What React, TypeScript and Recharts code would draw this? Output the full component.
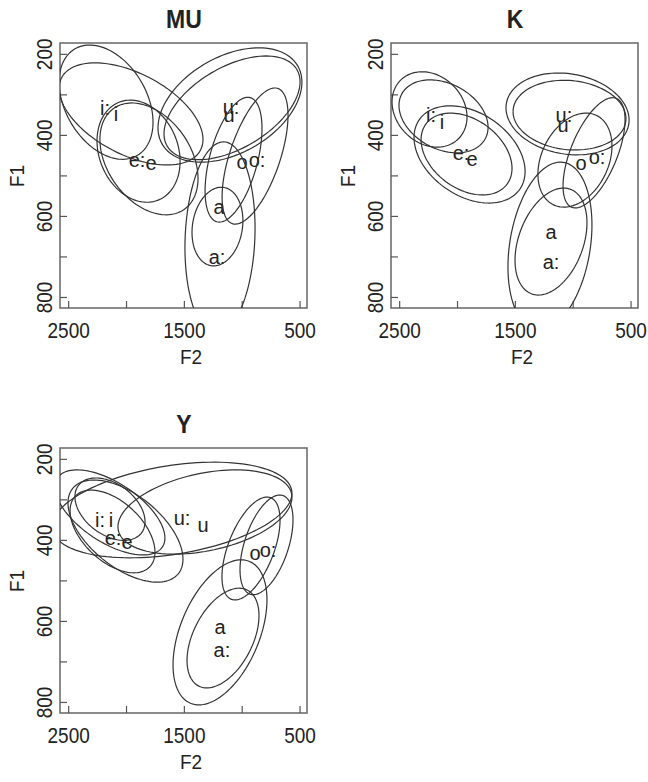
import React from 'react';
import { ScatterChart, Scatter, XAxis, YAxis, ReferenceArea } from 'recharts';

const vowels = ['i:', 'i', 'e:', 'e', 'u:', 'u', 'o', 'o:', 'a', 'a:'];

// ellipse per vowel: [centre F2, centre F1, half-width F2, half-height F1, tilt]
const muEllipses = [
  [1961, 347, 622, 126, -0.5],
  [2177, 318, 406, 141, -0.35],
  [1896, 439, 359, 126, -0.2],
  [1806, 458, 424, 138, -0.35],
  [1106, 325, 622, 141, 0.4],
  [1088, 332, 588, 128, 0.5],
  [1075, 460, 246, 154, 0.5],
  [889, 451, 285, 168, 0.6],
  [1214, 625, 220, 97, 0.15],
  [1192, 653, 303, 237, 0.1],
];
const muLabels = [
  [2186, 332], [2091, 347], [1909, 461], [1788, 468], [1097, 330],
  [1114, 350], [1002, 466], [872, 461], [1201, 577], [1218, 700],
];

const kEllipses = [
  [2242, 336, 324, 93, -0.2],
  [2121, 353, 385, 90, -0.3],
  [1896, 447, 480, 120, -0.35],
  [1922, 446, 393, 101, -0.35],
  [1049, 347, 532, 101, -0.15],
  [1032, 350, 488, 86, -0.1],
  [985, 461, 320, 116, 0.3],
  [820, 443, 268, 136, 0.6],
  [1192, 662, 311, 132, 0.35],
  [1201, 673, 363, 207, 0.25],
];
const kLabels = [
  [2229, 350], [2134, 367], [1970, 443], [1875, 458], [1080, 350],
  [1088, 374], [933, 468], [794, 453], [1192, 638], [1192, 712],
];

const yEllipses = [
  [2143, 331, 475, 105, -0.6],
  [2143, 323, 303, 77, -0.4],
  [2121, 378, 367, 102, -0.5],
  [2009, 377, 497, 126, -0.55],
  [1607, 325, 1037, 118, 0.35],
  [1322, 330, 752, 104, 0.35],
  [924, 420, 251, 127, 0.55],
  [790, 411, 229, 123, 0.5],
  [1166, 641, 311, 123, 0.45],
  [1192, 627, 406, 179, 0.45],
];
const yLabels = [
  [2229, 350], [2134, 350], [2117, 394], [1996, 404], [1520, 345],
  [1339, 362], [889, 431], [777, 424], [1192, 614], [1175, 671],
];

const f2Domain = [440, 2575];
const f1Domain = [172, 826];
const f2Ticks = [2500, 2000, 1500, 1000, 500];
const f2Labelled = [2500, 1500, 500];
const f1Ticks = [200, 300, 400, 500, 600, 700, 800];
const f1Labelled = [200, 400, 600, 800];

const BOX_W = 247;
const BOX_H = 265;
const PAD_L = 60;
const PAD_T = 43;
const CHART_W = 317;
const CHART_H = 383;
const INK = '#333';
const FONT = '"Liberation Sans", Arial, sans-serif';

function outline(e: number[]) {
  const [cx, cy, w, h, r] = e;
  const s = Math.sqrt(1 - r * r);
  const pts = [];
  for (let k = 0; k <= 120; k++) {
    const t = (k / 120) * 2 * Math.PI;
    pts.push({ x: cx + w * Math.cos(t), y: cy + h * (r * Math.cos(t) + s * Math.sin(t)) });
  }
  return pts;
}

const plotBottom = PAD_T + BOX_H;

function F2Tick(p: any) {
  const x = p.x;
  return (
    <g>
      <line x1={x} y1={plotBottom} x2={x} y2={plotBottom - 7} stroke="#555" strokeWidth={1.2} />
      {f2Labelled.includes(p.payload.value) && (
        <text transform={`translate(${x}, ${plotBottom + 23}) scale(1, 1.12)`} textAnchor="middle"
          dominantBaseline="central" fontSize={19} fill="#222" fontFamily={FONT}>
          {p.payload.value}
        </text>
      )}
    </g>
  );
}

function F1Tick(p: any) {
  const y = p.y;
  return (
    <g>
      <line x1={PAD_L} y1={y} x2={PAD_L + 7} y2={y} stroke="#555" strokeWidth={1.2} />
      {f1Labelled.includes(p.payload.value) && (
        <text transform={`translate(45, ${y}) rotate(-90) scale(1, 1.12)`} textAnchor="middle"
          dominantBaseline="central" fontSize={19} fill="#222" fontFamily={FONT}>
          {p.payload.value}
        </text>
      )}
    </g>
  );
}

function VowelText(p: any) {
  return (
    <text x={p.cx} y={p.cy} textAnchor="middle" dominantBaseline="central"
      fontSize={20} fill="#222" fontFamily={FONT}>
      {p.payload.v}
    </text>
  );
}

interface PanelProps {
  title: string;
  left: number;
  top: number;
  ellipses: number[][];
  labels: number[][];
}

function Panel({ title, left, top, ellipses, labels }: PanelProps) {
  const labelData = labels.map(([x, y], i) => ({ x, y, v: vowels[i] }));
  const text: React.CSSProperties = { position: 'absolute', transform: 'translate(-50%, -50%) scale(1, 1.1)', whiteSpace: 'nowrap', color: '#222', fontSize: 19, lineHeight: 1 };
  return (
    <div style={{ position: 'absolute', left: left - PAD_L, top: top - PAD_T, width: CHART_W, height: CHART_H }}>
      {/* frame, ticks and vowel labels */}
      <div style={{ position: 'absolute', left: 0, top: 0 }}>
        <ScatterChart width={CHART_W} height={CHART_H} margin={{ top: PAD_T, right: CHART_W - PAD_L - BOX_W, bottom: 0, left: 0 }}>
          <XAxis type="number" dataKey="x" domain={f2Domain} reversed allowDataOverflow ticks={f2Ticks}
            interval={0} height={CHART_H - PAD_T - BOX_H} axisLine={false} tickLine={false} tick={F2Tick} />
          <YAxis type="number" dataKey="y" domain={f1Domain} reversed allowDataOverflow ticks={f1Ticks}
            interval={0} width={PAD_L} axisLine={false} tickLine={false} tick={F1Tick} />
          <ReferenceArea x1={f2Domain[0]} x2={f2Domain[1]} y1={f1Domain[0]} y2={f1Domain[1]}
            fill="none" fillOpacity={0} stroke="#666" strokeWidth={1.5} />
          <Scatter data={labelData} shape={VowelText} isAnimationActive={false} />
        </ScatterChart>
      </div>
      {/* ellipses, clipped to the plot box */}
      <div style={{ position: 'absolute', left: PAD_L, top: PAD_T, width: BOX_W, height: BOX_H, overflow: 'hidden' }}>
        <ScatterChart width={BOX_W} height={BOX_H} margin={{ top: 0, right: 0, bottom: 0, left: 0 }}>
          <XAxis type="number" dataKey="x" domain={f2Domain} reversed allowDataOverflow hide />
          <YAxis type="number" dataKey="y" domain={f1Domain} reversed allowDataOverflow hide />
          {ellipses.map((e, i) => (
            <Scatter key={i} data={outline(e)} line={{ stroke: INK, strokeWidth: 1.2 }} lineType="joint"
              shape={() => <g />} isAnimationActive={false} />
          ))}
        </ScatterChart>
      </div>
      <div style={{ ...text, left: PAD_L + 124, top: PAD_T - 23, fontWeight: 'bold', fontSize: 23 }}>{title}</div>
      <div style={{ ...text, left: PAD_L + 131, top: PAD_T + BOX_H + 49 }}>F2</div>
      <div style={{ ...text, left: 17, top: PAD_T + BOX_H / 2, transform: 'translate(-50%, -50%) rotate(-90deg) scale(1, 1.1)' }}>F1</div>
    </div>
  );
}

export default function App() {
  return (
    <div style={{ position: 'absolute', left: 0, top: 0, width: 648, height: 782, background: '#fff', overflow: 'hidden', fontFamily: FONT }}>
      <Panel title="MU" left={60} top={43} ellipses={muEllipses} labels={muLabels} />
      <Panel title="K" left={391} top={43} ellipses={kEllipses} labels={kLabels} />
      <Panel title="Y" left={60} top={448} ellipses={yEllipses} labels={yLabels} />
    </div>
  );
}
